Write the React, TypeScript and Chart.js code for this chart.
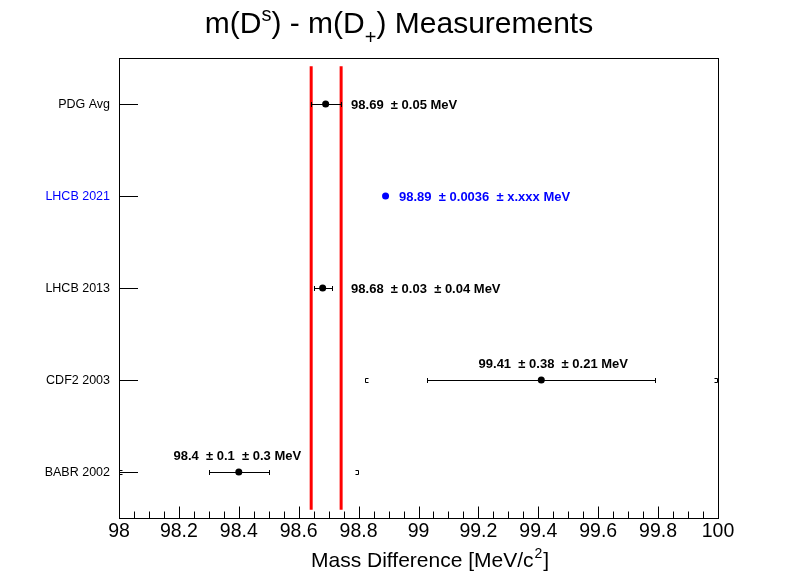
import React, { useEffect, useRef } from "react";
import { Chart, registerables } from "chart.js";

Chart.register(...registerables);

// ---- data ----
const categories = ["BABR 2002", "CDF2 2003", "LHCB 2013", "LHCB 2021", "PDG Avg"];
const rowIndex = [0, 1, 2, 3, 4];
const values = [98.4, 99.41, 98.68, 98.89, 98.69];
const statErr = [0.1, 0.38, 0.03, 0.0036, 0.05];
const outerErr: (number | null)[] = [0.4, 0.59, null, null, null];
const valueLabels = [
  "98.4  \u00b1 0.1  \u00b1 0.3 MeV",
  "99.41  \u00b1 0.38  \u00b1 0.21 MeV",
  "98.68  \u00b1 0.03  \u00b1 0.04 MeV",
  "98.89  \u00b1 0.0036  \u00b1 x.xxx MeV",
  "98.69  \u00b1 0.05 MeV",
];
const labelPlacement = ["above", "above", "right", "right", "right"];
const labelX = [98.395, 99.45, 98.775, 98.935, 98.775];
const highlighted = [false, false, false, true, false];
const bandCenter = 98.69;
const bandHalfWidth = 0.05;
const bandRowSpan = [-0.41, 4.41];
const xTickValues = [98, 98.2, 98.4, 98.6, 98.8, 99, 99.2, 99.4, 99.6, 99.8, 100];
const xTickLabels = ["98", "98.2", "98.4", "98.6", "98.8", "99", "99.2", "99.4", "99.6", "99.8", "100"];
const minorPerMajor = 4;

const FONT = "'Liberation Sans', Arial, Helvetica, sans-serif";
const BLUE = "#0000ff";

const drawPlugin = {
  id: "rootStyle",
  beforeDatasetsDraw(chart: any) {
    const ctx = chart.ctx;
    const xs = chart.scales.x;
    const ys = chart.scales.y;
    const area = chart.chartArea;
    ctx.save();

    // frame
    ctx.strokeStyle = "#000";
    ctx.lineWidth = 1;
    ctx.strokeRect(Math.round(area.left) + 0.5, Math.round(area.top) + 0.5, Math.round(area.right - area.left), Math.round(area.bottom - area.top));

    // x ticks
    const yb = Math.round(area.bottom) + 0.5;
    ctx.beginPath();
    for (let i = 0; i < xTickValues.length; i++) {
      const px = Math.round(xs.getPixelForValue(xTickValues[i])) + 0.5;
      ctx.moveTo(px, yb);
      ctx.lineTo(px, yb - 12);
      if (i < xTickValues.length - 1) {
        const step = (xTickValues[i + 1] - xTickValues[i]) / minorPerMajor;
        for (let k = 1; k < minorPerMajor; k++) {
          const mx = Math.round(xs.getPixelForValue(xTickValues[i] + k * step)) + 0.5;
          ctx.moveTo(mx, yb);
          ctx.lineTo(mx, yb - 7);
        }
      }
    }
    ctx.stroke();

    // x tick labels
    ctx.fillStyle = "#000";
    ctx.font = `19.5px ${FONT}`;
    ctx.textAlign = "center";
    ctx.textBaseline = "alphabetic";
    for (let i = 0; i < xTickValues.length; i++) {
      ctx.fillText(xTickLabels[i], xs.getPixelForValue(xTickValues[i]), area.bottom + 19);
    }

    // x axis title with superscript
    const t1 = "Mass Difference [MeV/c";
    const t2 = "2";
    const t3 = "]";
    ctx.textAlign = "left";
    ctx.font = `21px ${FONT}`;
    const w1 = ctx.measureText(t1).width;
    ctx.font = `14px ${FONT}`;
    const w2 = ctx.measureText(t2).width;
    const tx0 = 311;
    const tb = area.bottom + 49;
    ctx.font = `21px ${FONT}`;
    ctx.fillText(t1, tx0, tb);
    ctx.font = `14px ${FONT}`;
    ctx.fillText(t2, tx0 + w1 + 1, tb - 9);
    ctx.font = `21px ${FONT}`;
    ctx.fillText(t3, tx0 + w1 + w2 + 2, tb);

    // y ticks + labels
    ctx.font = `12.5px ${FONT}`;
    ctx.textAlign = "right";
    ctx.textBaseline = "middle";
    ctx.beginPath();
    for (let i = 0; i < categories.length; i++) {
      const py = Math.round(ys.getPixelForValue(rowIndex[i])) + 0.5;
      ctx.moveTo(area.left, py);
      ctx.lineTo(area.left + 19, py);
    }
    ctx.stroke();
    for (let i = 0; i < categories.length; i++) {
      const py = ys.getPixelForValue(rowIndex[i]);
      ctx.fillStyle = highlighted[i] ? BLUE : "#000";
      ctx.fillText(categories[i], area.left - 9, py + 1);
    }

    // red band lines
    ctx.strokeStyle = "#ff0000";
    ctx.lineWidth = 3;
    const yTop = ys.getPixelForValue(bandRowSpan[1]);
    const yBot = ys.getPixelForValue(bandRowSpan[0]);
    [bandCenter - bandHalfWidth, bandCenter + bandHalfWidth].forEach((v) => {
      const px = xs.getPixelForValue(v) + 0.5;
      ctx.beginPath();
      ctx.moveTo(px, yTop);
      ctx.lineTo(px, yBot);
      ctx.stroke();
    });

    // error bars
    ctx.lineWidth = 1;
    for (let i = 0; i < values.length; i++) {
      const color = highlighted[i] ? BLUE : "#000";
      ctx.strokeStyle = color;
      const py = Math.round(ys.getPixelForValue(rowIndex[i])) + 0.5;
      const xl = Math.round(xs.getPixelForValue(values[i] - statErr[i])) + 0.5;
      const xr = Math.round(xs.getPixelForValue(values[i] + statErr[i])) + 0.5;
      ctx.beginPath();
      ctx.moveTo(xl, py);
      ctx.lineTo(xr, py);
      if (!highlighted[i]) {
        ctx.moveTo(xl, py - 2.5);
        ctx.lineTo(xl, py + 2.5);
        ctx.moveTo(xr, py - 2.5);
        ctx.lineTo(xr, py + 2.5);
      }
      ctx.stroke();
      const oe = outerErr[i];
      if (oe !== null) {
        const bl = Math.round(xs.getPixelForValue(values[i] - oe)) + 0.5;
        const br = Math.round(xs.getPixelForValue(values[i] + oe)) - 0.5;
        ctx.beginPath();
        ctx.moveTo(bl + 3, py - 2);
        ctx.lineTo(bl, py - 2);
        ctx.lineTo(bl, py + 2);
        ctx.lineTo(bl + 3, py + 2);
        ctx.moveTo(br - 3, py - 2);
        ctx.lineTo(br, py - 2);
        ctx.lineTo(br, py + 2);
        ctx.lineTo(br - 3, py + 2);
        ctx.stroke();
      }
    }

    // value labels
    ctx.font = `bold 13px ${FONT}`;
    ctx.textBaseline = "middle";
    for (let i = 0; i < values.length; i++) {
      ctx.fillStyle = highlighted[i] ? BLUE : "#000";
      const py = ys.getPixelForValue(rowIndex[i]);
      const px = xs.getPixelForValue(labelX[i]);
      if (labelPlacement[i] === "above") {
        ctx.textAlign = "center";
        ctx.fillText(valueLabels[i], px, py - 16);
      } else {
        ctx.textAlign = "left";
        ctx.fillText(valueLabels[i], px, py + 1);
      }
    }

    // title
    const parts = [
      { s: "m(D", size: 30, dy: 0 },
      { s: "s", size: 20, dy: -12 },
      { s: ") - m(D", size: 30, dy: 0 },
      { s: "+", size: 20, dy: 11 },
      { s: ") Measurements", size: 30, dy: 0 },
    ];
    ctx.fillStyle = "#000";
    ctx.textAlign = "left";
    ctx.textBaseline = "alphabetic";
    let total = 0;
    const widths = parts.map((p) => {
      ctx.font = `${p.size}px ${FONT}`;
      const w = ctx.measureText(p.s).width;
      total += w;
      return w;
    });
    let cx = chart.width / 2 - total / 2;
    const base = 33;
    parts.forEach((p, k) => {
      ctx.font = `${p.size}px ${FONT}`;
      ctx.fillText(p.s, cx, base + p.dy);
      cx += widths[k];
    });

    ctx.restore();
  },
};

export default function App() {
  const canvasRef = useRef<HTMLCanvasElement | null>(null);

  useEffect(() => {
    const canvas = canvasRef.current;
    if (!canvas) return;
    const chart = new Chart(canvas, {
      type: "scatter",
      data: {
        datasets: [
          {
            data: values.map((v, i) => ({ x: v, y: rowIndex[i] })),
            pointBackgroundColor: highlighted.map((h) => (h ? BLUE : "#000")),
            pointBorderColor: highlighted.map((h) => (h ? BLUE : "#000")),
            pointRadius: 3.5,
            pointBorderWidth: 0,
            pointHoverRadius: 3.5,
          },
        ],
      },
      options: {
        animation: false,
        responsive: false,
        maintainAspectRatio: false,
        layout: { padding: { left: 119, top: 58, right: 80, bottom: 58 } },
        plugins: {
          legend: { display: false },
          tooltip: { enabled: false },
          title: { display: false },
        },
        scales: {
          x: { type: "linear", min: 98, max: 100, display: false },
          y: { type: "linear", min: -0.5, max: 4.5, display: false },
        },
      },
      plugins: [drawPlugin],
    });
    return () => chart.destroy();
  }, []);

  return (
    <div style={{ position: "fixed", left: 0, top: 0, width: 798, height: 576, background: "#fff" }}>
      <canvas ref={canvasRef} width={798} height={576} style={{ display: "block", width: 798, height: 576 }} />
    </div>
  );
}
